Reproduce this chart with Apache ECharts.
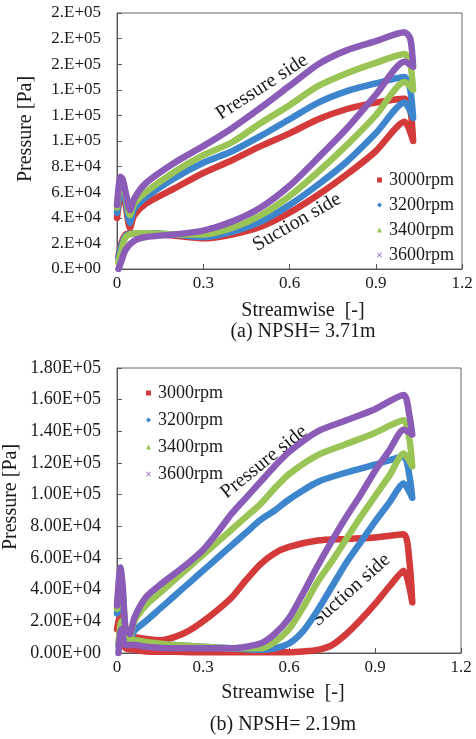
<!DOCTYPE html>
<html lang="en">
<head>
  <meta charset="UTF-8">
  <title>Blade pressure distribution</title>
  <style>
    html, body { margin: 0; padding: 0; background: #fff; }
    #chart { width: 476px; height: 739px; }
  </style>
  <script src="https://cdn.jsdelivr.net/npm/echarts@6/dist/echarts.min.js"></script>
</head>
<body>
  <div id="chart"></div>
  <script>
    // series names, colours
    const rpms = ['3000rpm', '3200rpm', '3400rpm', '3600rpm'];
    const colors = ['#D43A3A', '#3D86CE', '#9AC455', '#8B5BB8'];

    // (a) NPSH = 3.71m : pressure side, leading edge -> trailing edge
    const xPressA = [0, 0.012, 0.02, 0.03, 0.045, 0.06, 0.1, 0.2, 0.3, 0.4, 0.5, 0.6, 0.7, 0.8, 0.9, 1.0, 1.02];
    const pressA = [
      [40000, 58000, 60000, 50000, 32000, 42000, 51000, 63000, 75000, 85000, 96000, 106000, 117000, 125000, 130000, 133000, 125000],
      [44000, 62000, 63000, 54000, 36000, 47000, 56000, 71000, 83000, 92000, 104000, 117000, 130000, 139000, 145000, 150000, 140000],
      [48000, 66000, 65000, 58000, 42000, 51000, 60000, 76000, 89000, 99000, 114000, 128000, 143000, 153000, 161000, 168000, 160000],
      [50000, 72000, 70000, 60000, 46000, 55000, 67000, 83000, 96000, 110000, 126000, 143000, 160000, 171000, 178000, 185000, 180000]
    ];
    // (a) suction side, trailing edge -> leading edge
    const xSuctA = [1.03, 1.0, 0.9, 0.8, 0.7, 0.6, 0.5, 0.4, 0.3, 0.2, 0.1, 0.06, 0.03, 0.015, 0.005];
    const suctA = [
      [100000, 115000, 92000, 74000, 58000, 44000, 33000, 27000, 24000, 26000, 28000, 28000, 27000, 20000, 10000],
      [118000, 130000, 106000, 84000, 66000, 50000, 37000, 29000, 25000, 27000, 28000, 28000, 26000, 18000, 8000],
      [140000, 146000, 120000, 97000, 76000, 57000, 42000, 32000, 27000, 27000, 28000, 28000, 25000, 14000, 5000],
      [158000, 162000, 136000, 110000, 87000, 65000, 48000, 37000, 30000, 27000, 25000, 22000, 15000, 6000, 0]
    ];

    // (b) NPSH = 2.19m : pressure side
    const xPressB = [0, 0.012, 0.02, 0.03, 0.045, 0.06, 0.1, 0.15, 0.2, 0.25, 0.3, 0.35, 0.4, 0.45, 0.5, 0.55, 0.6, 0.7, 0.8, 0.9, 1.0, 1.02];
    const pressB = [
      [15000, 25000, 20000, 8000, 4000, 10000, 9000, 8000, 10000, 14000, 20000, 27000, 35000, 46000, 56000, 63000, 67000, 71000, 72000, 73000, 75000, 58000],
      [25000, 40000, 35000, 12000, 8000, 14000, 20000, 28000, 36000, 44000, 52000, 60000, 68000, 76000, 84000, 90000, 97000, 108000, 114000, 119000, 124000, 112000],
      [28000, 45000, 38000, 15000, 10000, 20000, 30000, 38000, 46000, 54000, 62000, 70000, 78000, 86000, 94000, 104000, 113000, 125000, 132000, 139000, 147000, 135000],
      [30000, 54000, 42000, 15000, 12000, 22000, 35000, 43000, 50000, 57000, 65000, 76000, 88000, 98000, 108000, 118000, 127000, 140000, 147000, 154000, 163000, 150000]
    ];
    // (b) suction side
    const xSuctB = [1.03, 1.0, 0.95, 0.9, 0.85, 0.8, 0.75, 0.7, 0.65, 0.6, 0.55, 0.5, 0.4, 0.3, 0.2, 0.1, 0.06, 0.03, 0.015, 0.005];
    const suctB = [
      [32000, 52000, 42000, 31000, 21000, 12000, 5000, 2000, 1000, 500, 500, 500, 500, 500, 800, 1000, 2000, 3000, 10000, 5000],
      [98000, 107000, 95000, 83000, 70000, 57000, 42000, 27000, 14000, 6000, 3000, 2000, 3000, 4000, 5000, 6000, 8000, 8000, 15000, 5000],
      [118000, 126000, 112000, 99000, 86000, 72000, 58000, 45000, 29000, 15000, 7000, 3000, 3000, 4000, 5000, 7000, 8000, 8000, 20000, 5000],
      [138000, 141000, 128000, 115000, 100000, 86000, 71000, 55000, 38000, 22000, 12000, 6000, 3000, 3000, 3000, 4000, 5000, 5000, 15000, 0]
    ];

    const xTicks = { min: 0, max: 1.2, interval: 0.3 };

    const font = "'Liberation Serif', 'Times New Roman', serif";
    const ink = '#1a1a1a';
    const xIcon = 'path://M0,1L1,0L5,4L9,0L10,1L6,5L10,9L9,10L5,6L1,10L0,9L4,5Z';
    const icons = ['rect', 'diamond', 'triangle', xIcon];

    function loop(xp, vp, xs, vs) {
      const pts = xp.map((x, i) => [x, vp[i]]);
      return pts.concat(xs.map((x, i) => [x, vs[i]]));
    }

    // 0.E+00 style (Excel scientific)
    function sci(digits) {
      return function (v) {
        const parts = v.toExponential(digits).split('e');
        const n = parseInt(parts[1], 10);
        const m = digits === 0 ? parts[0] + '.' : parts[0];
        return m + 'E' + (n < 0 ? '-' : '+') + String(Math.abs(n)).padStart(2, '0');
      };
    }

    function xAxisOf(gi, labelSize) {
      return {
        type: 'value', gridIndex: gi, min: xTicks.min, max: xTicks.max, interval: xTicks.interval,
        axisLine: { show: true, lineStyle: { color: '#555', width: 1 } },
        axisTick: { show: true, inside: true, length: 5, lineStyle: { color: '#555' } },
        axisLabel: { margin: 6, color: ink, fontFamily: font, fontSize: labelSize },
        splitLine: { show: false }
      };
    }
    function yAxisOf(gi, max, digits, labelSize) {
      return {
        type: 'value', gridIndex: gi, min: 0, max: max, interval: 20000,
        axisLine: { show: true, lineStyle: { color: '#555', width: 1 } },
        axisTick: { show: true, inside: true, length: 5, lineStyle: { color: '#555' } },
        axisLabel: { margin: 16, color: ink, fontFamily: font, fontSize: labelSize, formatter: sci(digits) },
        splitLine: { show: false }
      };
    }

    const series = [];
    rpms.forEach((name, i) => {
      series.push({
        name: name, type: 'line', xAxisIndex: 0, yAxisIndex: 0,
        data: loop(xPressA, pressA[i], xSuctA, suctA[i]),
        showSymbol: false, symbol: 'none', smooth: 0.25,
        lineStyle: { color: colors[i], width: 6.5, join: 'round', cap: 'round' },
        itemStyle: { color: colors[i] }, z: 2 + i
      });
      series.push({
        name: name, type: 'line', xAxisIndex: 1, yAxisIndex: 1,
        data: loop(xPressB, pressB[i], xSuctB, suctB[i]),
        showSymbol: false, symbol: 'none', smooth: 0.25,
        lineStyle: { color: colors[i], width: 6.5, join: 'round', cap: 'round' },
        itemStyle: { color: colors[i] }, z: 2 + i
      });
    });

    function legendOf(left, top, gap) {
      return {
        orient: 'vertical', left: left, top: top, itemGap: gap,
        itemWidth: 5, itemHeight: 5, selectedMode: false,
        textStyle: { fontFamily: font, fontSize: 18, color: ink, lineHeight: 18, padding: [0, 0, 0, 2] },
        data: rpms.map((n, i) => ({ name: n, icon: icons[i], itemStyle: { color: colors[i] } }))
      };
    }

    function label(text, x, y, size, deg) {
      return {
        type: 'text', x: x, y: y, rotation: (deg || 0) * Math.PI / 180,
        style: { text: text, fill: ink, font: size + 'px ' + font, textAlign: 'center', textVerticalAlign: 'middle' }
      };
    }

    const chart = echarts.init(document.getElementById('chart'), null, { renderer: 'canvas' });
    chart.setOption({
      animation: false,
      backgroundColor: '#fff',
      grid: [
        { left: 117, top: 13, width: 345, height: 256, show: true, borderColor: '#666', borderWidth: 1, backgroundColor: 'transparent' },
        { left: 117, top: 368, width: 344, height: 285, show: true, borderColor: '#666', borderWidth: 1, backgroundColor: 'transparent' }
      ],
      xAxis: [xAxisOf(0, 17), xAxisOf(1, 17)],
      yAxis: [yAxisOf(0, 200000, 0, 17), yAxisOf(1, 180000, 2, 18)],
      legend: [legendOf(372, 166, 7), legendOf(141, 379, 9)],
      series: series,
      graphic: [
        label('Pressure [Pa]', 26, 129, 20, 90),
        label('Streamwise  [-]', 303, 311, 20),
        label('(a) NPSH= 3.71m', 303, 332, 20),
        label('Pressure side', 262, 87, 20, 33),
        label('Suction side', 297, 222, 20, 30),
        label('Pressure [Pa]', 11, 497, 20, 90),
        label('Streamwise  [-]', 283, 693, 20),
        label('(b) NPSH= 2.19m', 283, 725, 20),
        label('Pressure side', 264, 462, 20, 39),
        label('Suction side', 351, 590, 20, 42)
      ]
    });
  </script>
</body>
</html>
